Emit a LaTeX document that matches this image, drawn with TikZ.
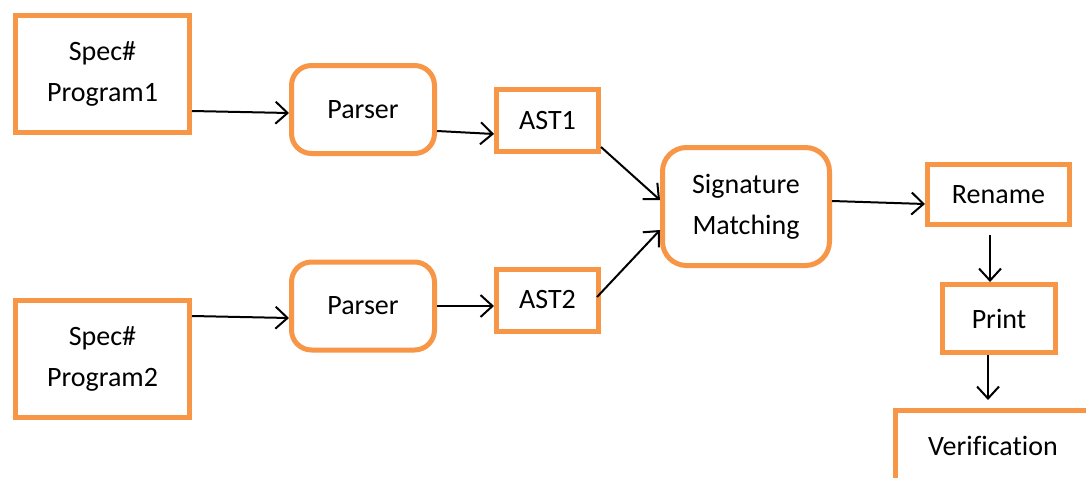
\documentclass[tikz,border=0pt]{standalone}
\usepackage{fontspec}
\setmainfont{Carlito}[Ligatures=NoCommon]
\usepackage{xcolor}
\usetikzlibrary{arrows.meta}
\definecolor{boxorange}{HTML}{F79646}
\tikzset{
	box/.style={draw=boxorange, line width=2.5pt, fill=white, align=center, font=\fontsize{14}{20.5}\selectfont},
	rbox/.style={box, rounded corners=10pt},
	link/.style={line width=1pt, -{Straight Barb[length=6pt, width=11pt, line width=1pt]}}
}
\begin{document}
\begin{tikzpicture}[x=0.5pt, y=-0.5pt]
			% 边界
			\clip (0,0) rectangle (1086,477);
			% 划方框
			\node[box, minimum width=87pt, minimum height=58.5pt] (prog1) at (102.5,74) {Spec\#\\Program1};
			\node[box, minimum width=87pt, minimum height=58.5pt] (prog2) at (102.5,359) {Spec\#\\Program2};
			\node[rbox, minimum width=71.5pt, minimum height=44pt] (parse1) at (363,109.5) {Parser};
			\node[rbox, minimum width=71.5pt, minimum height=44pt] (parse2) at (363,306) {Parser};
			\node[box, minimum width=51pt, minimum height=31pt] (ast1) at (547.5,120.5) {AST1};
			\node[box, minimum width=51pt, minimum height=31pt] (ast2) at (547.5,300) {AST2};
			\node[rbox, rounded corners=12pt, minimum width=83.5pt, minimum height=59pt] (sig) at (746,206.5) {Signature\\Matching};
			\node[box, minimum width=71pt, minimum height=30pt] (rename) at (998.5,194.5) {Rename};
			\node[box, minimum width=56.5pt, minimum height=34pt] (print) at (999,318.5) {Print};
			\node[box, minimum width=97.5pt, minimum height=35.5pt, text depth=0pt] (verif) at (993,446) {Verification};
			% 划箭头
			\draw[link] ([yshift=-18.5pt]prog1.east) -- ([yshift=-1.75pt]parse1.west);
			\draw[link] ([yshift=21.5pt]prog2.east) -- ([yshift=-6pt]parse2.west);
			\draw[link] ([yshift=-10.75pt]parse1.east) -- ([yshift=-6.75pt]ast1.west);
			\draw[link] (parse2.east) -- ([yshift=-3pt]ast2.west);
			\draw[link] ([yshift=-13.25pt]ast1.east) -- ([yshift=3.25pt]sig.west);
			\draw[link] ([xshift=-2pt, yshift=1.5pt]ast2.east) -- ([yshift=-11.75pt]sig.west);
			\draw[link] ([yshift=2.75pt]sig.east) -- ([yshift=-4.75pt]rename.west);
			\draw[link, shorten <=4pt] ([xshift=-4.25pt]rename.south) -- ([xshift=-4.5pt]print.north);
			\draw[link] ([xshift=-5.5pt]print.south) -- ([xshift=-2.5pt, yshift=4pt]verif.north);
		\end{tikzpicture}
\end{document}
